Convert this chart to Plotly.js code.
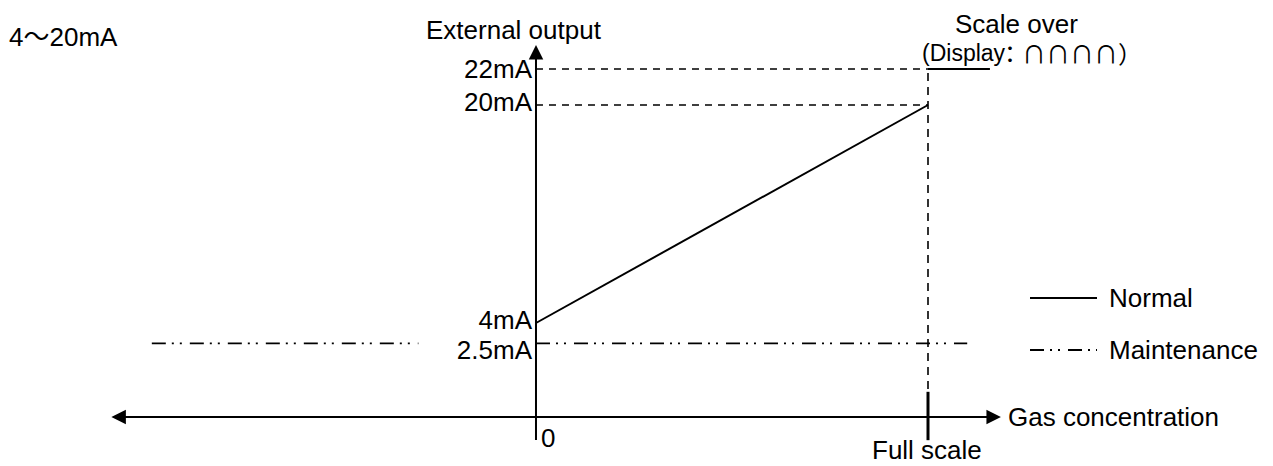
<!DOCTYPE html>
<html>
<head>
<meta charset="utf-8">
<script src="https://cdn.plot.ly/plotly-3.0.1.min.js"></script>
<style>
  html, body { margin: 0; padding: 0; background: #fff; }
  #chart { width: 1273px; height: 466px; }
</style>
</head>
<body>
<div id="chart"></div>
<script>
// ---- data (x: % of full scale, y: mA) ----
const seriesNames = ['Normal', 'Maintenance'];
const normalX = [0, 100];
const normalY = [4, 20];
const maintLeftX = [-98, -30];
const maintRightX = [0, 110];
const maintLevel = 2.5;
const tickLevels = [20, 4];
const tickLabels = ['20mA', '4mA'];
const maintLabel = '2.5mA';
const overLevel = 22;          // scale over level (drawn on the broken upper axis)
const overLabel = '22mA';
const fullScale = 100;

// ---- schematic axis geometry ----
const W = 1273, H = 466;
const xAxisLevel = -2.9;       // where the horizontal axis crosses (y units)
const xLeftTip = -108.7, xRightTip = 118.6;
const yTopTip = 24.4, yBottom = -4.7;
const xRange = [-136.73, 188.01];
const yRange = [-6.495, 27.706];
const y2Range = [-0.056, 25.833];
// y -> y2 (the upper part of the vertical axis is drawn with a break)
const toY2 = v => 20 + (v - 20) * 13.625 / 18;

const FONT = 'Liberation Sans, Arial, Noto Sans CJK JP, sans-serif';
const CJK = 'Noto Sans CJK JP, sans-serif';
const FS = 26;
const px = x => x / W;
const py = y => 1 - y / H;

const maintDash = '14px,6px,2px,6px,2px,8px';
const refDash = '7px,6px';

const traces = [
  { // 20mA reference
    x: [0, fullScale], y: [20, 20], mode: 'lines',
    line: { color: '#000', width: 1.6, dash: refDash }, hoverinfo: 'skip'
  },
  { // 22mA reference (upper axis)
    x: [0, fullScale], y: [overLevel, overLevel], yaxis: 'y2', mode: 'lines',
    line: { color: '#000', width: 1.6, dash: refDash }, hoverinfo: 'skip'
  },
  { // full scale vertical
    x: [fullScale, fullScale], y: [toY2(xAxisLevel), overLevel], yaxis: 'y2', mode: 'lines',
    line: { color: '#000', width: 1.6, dash: '8px,6px' }, hoverinfo: 'skip'
  },
  { // short solid continuation under "Display"
    x: [fullScale, 115.8], y: [overLevel, overLevel], yaxis: 'y2', mode: 'lines',
    line: { color: '#000', width: 2 }, hoverinfo: 'skip'
  },
  {
    name: seriesNames[0], x: normalX, y: normalY, mode: 'lines',
    line: { color: '#000', width: 2 }
  },
  {
    name: seriesNames[1], yaxis: 'y3',
    x: maintLeftX.concat([null], maintRightX),
    y: [maintLevel, maintLevel, null, maintLevel, maintLevel],
    mode: 'lines', connectgaps: false,
    line: { color: '#000', width: 1.8, dash: maintDash }
  }
];

const axisCommon = {
  showgrid: false, zeroline: false, showline: false,
  ticks: '', anchor: 'free', position: 536 / W, side: 'left',
  ticklabelstandoff: 4,
  tickfont: { family: FONT, size: FS, color: '#000' }, fixedrange: true
};

function txt(text, x, y, xanchor, extra) {
  return Object.assign({
    text: text, x: x, y: y, xref: 'paper', yref: 'paper',
    xanchor: xanchor, yanchor: 'middle', showarrow: false,
    font: { family: FONT, size: FS, color: '#000' }
  }, extra || {});
}

const annotations = [
  // vertical axis with arrow
  { x: 0, y: yTopTip, ax: 0, ay: yBottom, xref: 'x', yref: 'y', axref: 'x', ayref: 'y',
    text: '', showarrow: true, arrowhead: 2, arrowsize: 1.45, arrowwidth: 2, arrowcolor: '#000', standoff: 0 },
  // horizontal axis, arrows both ends
  { x: xRightTip, y: xAxisLevel, ax: xLeftTip, ay: xAxisLevel, xref: 'x', yref: 'y', axref: 'x', ayref: 'y',
    text: '', showarrow: true, arrowside: 'end+start', arrowhead: 2, startarrowhead: 2,
    arrowsize: 1.45, startarrowsize: 1.45, arrowwidth: 2, arrowcolor: '#000', standoff: 0, startstandoff: 0 },
  txt('4～20mA', px(7), py(37), 'left'),
  txt('External output', px(514), py(30), 'center'),
  txt('Scale over', px(1016), py(24), 'center'),
  txt('(Display', px(920), py(53), 'left', { font: { family: FONT, size: 23, color: '#000' } }),
  txt('：∩∩∩∩）', px(996), py(53), 'left', { font: { family: CJK, size: 24, color: '#000' } }),
  txt('Gas concentration', px(1006), py(417), 'left'),
  txt('0', px(539), py(438), 'left'),
  txt('Full scale', px(927), 0, 'center', { yanchor: 'bottom', borderpad: 0 }),
  txt(seriesNames[0], px(1107), py(298), 'left'),
  txt(seriesNames[1], px(1107), py(350), 'left')
];

const shapes = [
  // full scale tick mark
  { type: 'line', xref: 'x', yref: 'y', x0: fullScale, x1: fullScale, y0: -4.6, y1: -1.05,
    line: { color: '#000', width: 3 } },
  // legend samples
  { type: 'line', xref: 'paper', yref: 'paper', x0: px(1030), x1: px(1097), y0: py(298), y1: py(298),
    line: { color: '#000', width: 2 } },
  { type: 'line', xref: 'paper', yref: 'paper', x0: px(1030), x1: px(1097), y0: py(350), y1: py(350),
    line: { color: '#000', width: 1.8, dash: maintDash } }
];

const layout = {
  width: W, height: H,
  margin: { l: 0, r: 0, t: 0, b: 0 },
  paper_bgcolor: '#fff', plot_bgcolor: '#fff',
  showlegend: false,
  xaxis: { range: xRange, visible: false, fixedrange: true },
  yaxis: Object.assign({ range: yRange, tickvals: tickLevels, ticktext: tickLabels, ticklabelshift: -3 }, axisCommon),
  yaxis2: Object.assign({ range: y2Range, overlaying: 'y', tickvals: [overLevel], ticktext: [overLabel] }, axisCommon),
  // 2.5mA label sits slightly below its line in the original
  yaxis3: Object.assign({ range: yRange, overlaying: 'y', tickvals: [maintLevel], ticktext: [maintLabel], ticklabelshift: 6 }, axisCommon),
  annotations: annotations,
  shapes: shapes
};

Plotly.newPlot('chart', traces, layout, { displayModeBar: false, staticPlot: true });
</script>
</body>
</html>
